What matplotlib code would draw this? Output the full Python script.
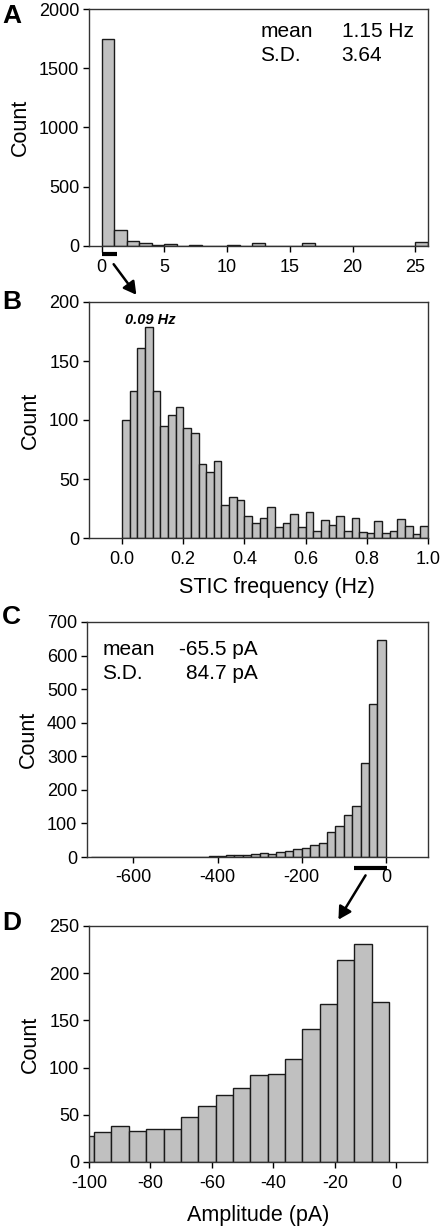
import numpy as np
import matplotlib
matplotlib.use("Agg")
import matplotlib.pyplot as plt
import matplotlib.transforms as mtransforms

plt.rcParams['font.family'] = ['Liberation Sans', 'DejaVu Sans']
plt.rcParams['axes.unicode_minus'] = False

# ---- data ----
# A: STIC frequency, 1 Hz bins from 0 to 26
freq_edges_a = np.arange(0, 27, 1)
freq_counts_a = [1750, 133, 45, 22, 10, 18, 2, 7, 2, 2, 10, 3, 22, 2, 1, 1,
                 27, 1, 1, 1, 1, 1, 1, 1, 1, 33]

# B: STIC frequency 0-1 Hz, 0.025 Hz bins
freq_edges_b = np.linspace(0, 1, 41)
freq_counts_b = [100, 125, 161, 179, 125, 95, 104, 111, 93, 89,
                 63, 56, 65, 28, 35, 32, 19, 13, 17, 26,
                 9, 13, 20, 9, 22, 6, 15, 11, 19, 6,
                 17, 5, 4, 14, 4, 6, 16, 10, 3, 10]

# C: amplitude, 20 pA bins from -700 to 0
amp_edges_c = np.arange(-700, 1, 20)
amp_counts_c = [0, 1, 0, 1, 0, 1, 0, 1, 1, 0, 0, 1, 0, 0,
                2, 4, 7, 6, 7, 10, 11, 9, 14, 17, 24, 28, 37, 42, 74,
                92, 125, 151, 281, 455, 647]

# D: amplitude -100 to 0 pA
amp_edges_d = -2.3 - 5.65 * np.arange(18, -1, -1)
amp_counts_d = [27.5, 31.4, 37.8, 32.8, 35, 35, 47.7, 59.7, 70.6, 78.7,
                91.8, 92.9, 108.8, 140.9, 167, 214, 231, 169.5]

W, H = 442, 1226
fig = plt.figure(figsize=(W / 100, H / 100), dpi=100)


def make_ax(top, bottom, left=89, right=428):
    return fig.add_axes([left / W, 1 - bottom / H, (right - left) / W, (bottom - top) / H])


def hist_bars(ax, edges, counts):
    edges = np.asarray(edges)
    ax.bar(edges[:-1], counts, width=np.diff(edges), align='edge',
           color='#c0c0c0', edgecolor='#1a1a1a', linewidth=1.0)


def style(ax):
    ax.tick_params(direction='out', length=4, width=1, labelsize=13, top=False, right=False)
    ax.tick_params(axis='x', pad=5)
    ax.tick_params(axis='y', pad=3)
    for s in ax.spines.values():
        s.set_linewidth(1.0)
        s.set_color('#333333')


label_fs = 15.5
stat_fs = 15

# ---- A ----
axA = make_ax(9, 246)
hist_bars(axA, freq_edges_a, freq_counts_a)
axA.set_xlim(-1, 26)
axA.set_ylim(0, 2000)
axA.set_xticks([0, 5, 10, 15, 20, 25])
axA.set_yticks([0, 500, 1000, 1500, 2000])
axA.set_ylabel('Count', fontsize=label_fs, labelpad=6)
style(axA)
axA.text(0.505, 0.905, 'mean', transform=axA.transAxes, fontsize=stat_fs, va='center')
axA.text(0.745, 0.905, '1.15 Hz', transform=axA.transAxes, fontsize=stat_fs, va='center')
axA.text(0.505, 0.805, 'S.D.', transform=axA.transAxes, fontsize=stat_fs, va='center')
axA.text(0.745, 0.805, '3.64', transform=axA.transAxes, fontsize=stat_fs, va='center')
trA = mtransforms.blended_transform_factory(axA.transData, axA.transAxes)
axA.plot([0.05, 1.2], [-0.034, -0.034], color='black', lw=3, transform=trA, clip_on=False,
         solid_capstyle='butt')

# ---- B ----
axB = make_ax(302, 538)
hist_bars(axB, freq_edges_b, freq_counts_b)
axB.set_xlim(-0.108, 1.0)
axB.set_ylim(0, 200)
axB.set_xticks([0.0, 0.2, 0.4, 0.6, 0.8, 1.0])
axB.set_xticklabels(['0.0', '0.2', '0.4', '0.6', '0.8', '1.0'])
axB.set_yticks([0, 50, 100, 150, 200])
axB.set_ylabel('Count', fontsize=label_fs, labelpad=6)
axB.set_xlabel('STIC frequency (Hz)', fontsize=label_fs)
axB.xaxis.set_label_coords(0.555, -0.165)
style(axB)
axB.text(0.0915, 185, '0.09 Hz', fontsize=10.5, fontweight='bold', fontstyle='italic',
         ha='center', va='center')

# ---- C ----
axC = make_ax(622, 857, left=87)
hist_bars(axC, amp_edges_c, amp_counts_c)
axC.set_xlim(-710, 100)
axC.set_ylim(0, 700)
axC.set_xticks([-600, -400, -200, 0])
axC.set_yticks(range(0, 701, 100))
axC.set_ylabel('Count', fontsize=label_fs, labelpad=6)
style(axC)
axC.text(0.045, 0.885, 'mean', transform=axC.transAxes, fontsize=stat_fs, va='center')
axC.text(0.27, 0.885, '-65.5 pA', transform=axC.transAxes, fontsize=stat_fs, va='center')
axC.text(0.045, 0.78, 'S.D.', transform=axC.transAxes, fontsize=stat_fs, va='center')
axC.text(0.29, 0.78, '84.7 pA', transform=axC.transAxes, fontsize=stat_fs, va='center')
trC = mtransforms.blended_transform_factory(axC.transData, axC.transAxes)
axC.plot([-76, 2], [-0.047, -0.047], color='black', lw=3, transform=trC, clip_on=False,
         solid_capstyle='butt')

# ---- D ----
axD = make_ax(926, 1162, right=427)
hist_bars(axD, amp_edges_d, amp_counts_d)
axD.set_xlim(-100, 10)
axD.set_ylim(0, 250)
axD.set_xticks([-100, -80, -60, -40, -20, 0])
axD.set_yticks([0, 50, 100, 150, 200, 250])
axD.set_ylabel('Count', fontsize=label_fs, labelpad=6)
axD.set_xlabel('Amplitude (pA)', fontsize=label_fs, labelpad=10)
style(axD)

# ---- panel letters ----
for letter, ytop in [('A', 4), ('B', 290), ('C', 605), ('D', 911)]:
    fig.text(2 / W, 1 - ytop / H, letter, fontsize=19, fontweight='bold', va='top', ha='left')

# ---- zoom arrows ----
def fig_arrow(x0, y0, x1, y1):
    fig.add_artist(matplotlib.patches.FancyArrowPatch(
        (x0 / W, 1 - y0 / H), (x1 / W, 1 - y1 / H), transform=fig.transFigure,
        arrowstyle='-|>,head_length=5,head_width=2.8', color='black', lw=1.8,
        mutation_scale=1.5))

fig_arrow(112, 262, 138, 297)
fig_arrow(367, 873, 337, 922)

fig.savefig('out.png', dpi=100)
